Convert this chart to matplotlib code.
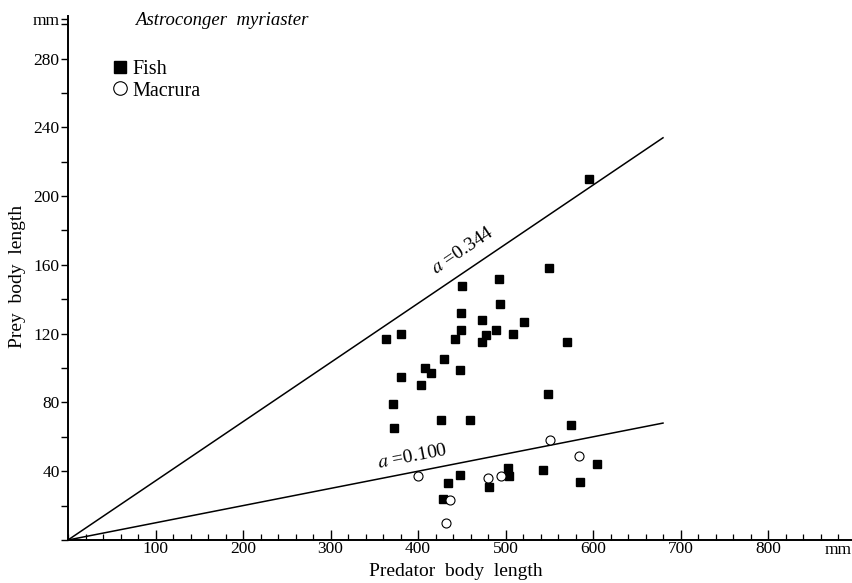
import matplotlib
matplotlib.use("Agg")
import matplotlib.pyplot as plt
import numpy as np
from matplotlib.ticker import MultipleLocator

plt.rcParams["font.family"] = ["Liberation Serif", "DejaVu Serif"]
plt.rcParams["mathtext.fontset"] = "stix"

# predator body length (mm) vs prey body length (mm)
fish_x = [550, 492, 450, 494, 449, 473, 521, 381, 363, 449, 478, 489, 509,
          442, 473, 570, 430, 408, 415, 448, 381, 403, 549, 371, 373, 426,
          459, 575, 503, 605, 543, 448, 504, 434, 585, 481, 429, 595]
fish_y = [158, 152, 148, 137, 132, 128, 127, 120, 117, 122, 119, 122, 120,
          117, 115, 115, 105, 100, 97, 99, 95, 90, 85, 79, 65, 70,
          70, 67, 42, 44, 41, 38, 37, 33, 34, 31, 24, 210]
macrura_x = [551, 584, 400, 480, 495, 437, 432]
macrura_y = [58, 49, 37, 36, 37, 23, 10]

slopes = [0.344, 0.100]
line_end = 680

fig = plt.figure(figsize=(8.52, 5.83), dpi=100)
ax = fig.add_axes([68 / 852, 43 / 583, 784 / 852, 521 / 583])

for a in slopes:
    xs = np.array([0, line_end])
    ax.plot(xs, a * xs, color="black", lw=1.1, zorder=1)

ax.plot(fish_x, fish_y, ls="none", marker="s", ms=6, mfc="black",
        mec="black", label="Fish", zorder=3)
ax.plot(macrura_x, macrura_y, ls="none", marker="o", ms=6.5, mfc="white",
        mec="black", mew=0.8, label="Macrura", zorder=3)

ax.set_xlim(0, 896)
ax.set_ylim(0, 300)

for s in ["top", "right"]:
    ax.spines[s].set_visible(False)
ax.spines["left"].set_bounds(0, 305)
ax.spines["left"].set_linewidth(1.4)
ax.spines["bottom"].set_linewidth(1.4)

ax.set_xticks([100, 200, 300, 400, 500, 600, 700, 800])
ax.xaxis.set_minor_locator(MultipleLocator(20))
ax.tick_params(axis="x", which="major", direction="in", length=7, width=1,
               labelsize=12.5, pad=1)
ax.tick_params(axis="x", which="minor", direction="in", length=4, width=0.9)

ax.set_yticks([40, 80, 120, 160, 200, 240, 280, 303])
ax.set_yticklabels(["40", "80", "120", "160", "200", "240", "280", "mm"])
ax.yaxis.set_minor_locator(MultipleLocator(20))
ax.tick_params(axis="y", which="major", direction="out", length=5, width=1,
               labelsize=12.5, pad=1)
ax.tick_params(axis="y", which="minor", direction="out", length=5, width=1)

ax.text(880, -1, "mm", ha="center", va="top", fontsize=12.5)

ax.set_xlabel("Predator  body  length", fontsize=14)
ax.xaxis.set_label_coords(0.495, -0.045)
ax.set_ylabel("Prey  body  length", fontsize=14)
ax.yaxis.set_label_coords(-0.053, 0.505)

ax.text(77, 302, "Astroconger  myriaster", style="italic", fontsize=13.5,
        va="center", ha="left")

ax.legend(loc="upper left", bbox_to_anchor=(0.045, 0.94), frameon=False,
          fontsize=14.5, handlelength=0.7, handletextpad=0.25,
          labelspacing=0.1, borderpad=0, markerscale=1.5)

ax.text(451, 0.344 * 451 + 13, r"$a$ =0.344", rotation=34, fontsize=14,
        ha="center", va="center", rotation_mode="anchor")
ax.text(394, 0.100 * 394 + 9, r"$a$ =0.100", rotation=11, fontsize=14,
        ha="center", va="center", rotation_mode="anchor")

fig.savefig("out.png", dpi=100)
